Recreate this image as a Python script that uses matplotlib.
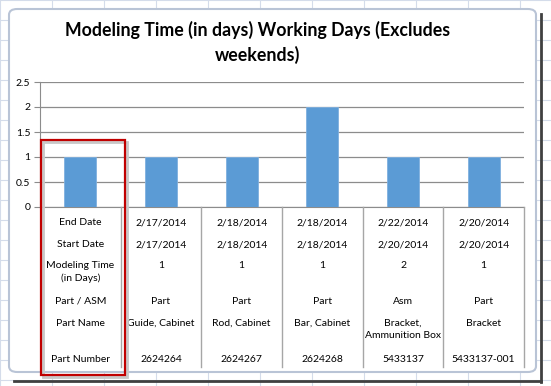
import matplotlib.pyplot as plt
from matplotlib.patches import FancyBboxPatch, Rectangle
from matplotlib.lines import Line2D
from matplotlib.transforms import blended_transform_factory

# dados do grafico
bar_values = [1, 1, 1, 2, 1, 1]
row_labels = ['End Date', 'Start Date', 'Modeling Time\n(in Days)',
              'Part / ASM', 'Part Name', 'Part Number']
end_dates = ['2/17/2014', '2/18/2014', '2/18/2014', '2/22/2014', '2/20/2014']
start_dates = ['2/17/2014', '2/18/2014', '2/18/2014', '2/20/2014', '2/20/2014']
modeling_days = ['1', '1', '1', '2', '1']
part_asm = ['Part', 'Part', 'Part', 'Asm', 'Part']
part_names = ['Guide, Cabinet', 'Rod, Cabinet', 'Bar, Cabinet',
              'Bracket,\nAmmunition Box', 'Bracket']
part_numbers = ['2624264', '2624267', '2624268', '5433137', '5433137-001']
yticks = [0, 0.5, 1, 1.5, 2, 2.5]

W, H = 551, 386
def fx(x):
    return x / W
def fy(y):
    return 1 - y / H

plt.rcParams['font.family'] = ['Lato', 'DejaVu Sans']
fig = plt.figure(figsize=(W / 100, H / 100), dpi=100)
fig.patch.set_facecolor('white')

# fundo de planilha
grid_c = '#d4dcea'
for x in range(0, W, 52):
    fig.add_artist(Line2D([fx(x), fx(x)], [0, 1], color=grid_c, lw=0.8, zorder=0))
for y in range(0, H, 20):
    fig.add_artist(Line2D([0, 1], [fy(y), fy(y)], color=grid_c, lw=0.8, zorder=0))

# sombra da janela
fig.add_artist(Line2D([fx(541), fx(541)], [fy(14), fy(382)], color='#404040', lw=2, zorder=0.5))
fig.add_artist(Line2D([fx(14), fx(541)], [fy(381), fy(381)], color='#404040', lw=2, zorder=0.5))

# area do grafico
chart = FancyBboxPatch((fx(9), fy(372)), fx(536) - fx(9), fy(9) - fy(372),
                       boxstyle='round,pad=0,rounding_size=0.015',
                       transform=fig.transFigure, facecolor='white',
                       edgecolor='#b9c4d6', lw=1.5, zorder=1)
fig.add_artist(chart)

ax = fig.add_axes([fx(40), fy(207), fx(524) - fx(40), fy(82) - fy(207)])
ax.set_zorder(5)
ax.set_facecolor('none')
x = list(range(len(bar_values)))
ax.bar(x, bar_values, width=0.4, color='#5b9bd5', edgecolor='#7fb0df', lw=0.6, zorder=3)
ax.set_xlim(-0.5, len(bar_values) - 0.5)
ax.set_ylim(0, 2.5)
ax.set_yticks(yticks)
ax.set_yticklabels(['0', '0.5', '1', '1.5', '2', '2.5'])
ax.yaxis.grid(True, color='#8c8c8c', lw=0.9)
ax.set_axisbelow(True)
ax.set_xticks([])
for s in ['top', 'right']:
    ax.spines[s].set_visible(False)
ax.spines['left'].set_color('#8c8c8c')
ax.spines['bottom'].set_color('#8c8c8c')
ax.tick_params(axis='y', length=4, color='#8c8c8c', labelsize=7.5, pad=3)

fig.text(fx(258), fy(30), 'Modeling Time (in days) Working Days (Excludes',
         ha='center', va='center', fontsize=12.8, fontweight='bold', zorder=6)
fig.text(fx(258), fy(55), 'weekends)', ha='center', va='center',
         fontsize=12.8, fontweight='bold', zorder=6)

# tabela de categorias
tr = blended_transform_factory(ax.transData, fig.transFigure)
for i in range(len(bar_values)):
    fig.add_artist(Line2D([i + 0.5, i + 0.5], [fy(207), fy(367)],
                          color='#a6a6a6', lw=1, transform=tr, zorder=6))

row_y = [222, 244, 265, 301, 323, 359]
columns = [end_dates, start_dates, modeling_days, part_asm, part_names, part_numbers]
for r, yy in enumerate(row_y):
    fig.text(0, fy(yy - 4), row_labels[r], transform=tr, ha='center', va='top',
             fontsize=7.5, linespacing=1.45, zorder=6)
    for c, val in enumerate(columns[r]):
        fig.text(c + 1, fy(yy - 4), val, transform=tr, ha='center', va='top',
                 fontsize=7.5, linespacing=1.45, zorder=6)

# destaque vermelho
fig.add_artist(Rectangle((fx(43), fy(377)), fx(127) - fx(43), fy(142) - fy(377),
                         transform=fig.transFigure, fill=False,
                         edgecolor='#c8c8c8', lw=2, zorder=9))
fig.add_artist(Rectangle((fx(41), fy(375)), fx(125) - fx(41), fy(140) - fy(375),
                         transform=fig.transFigure, fill=False,
                         edgecolor='#c00000', lw=1.6, zorder=10))

plt.savefig('out.png', dpi=100)
